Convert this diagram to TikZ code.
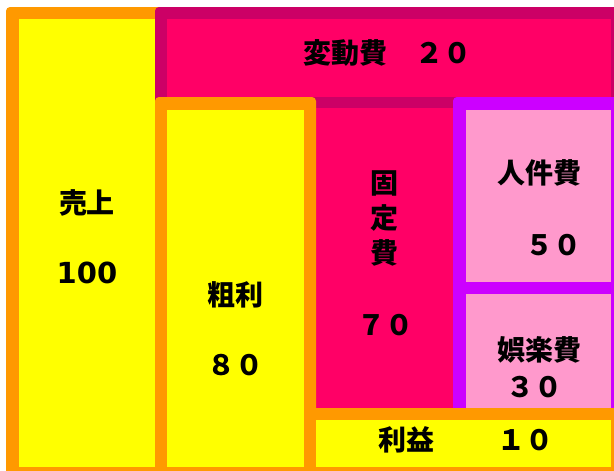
\documentclass[tikz,border=0pt]{standalone}
\usepackage{fontspec}
\newfontfamily\jp{Noto Sans CJK JP}
\newfontfamily\dv{DejaVu Sans}
\definecolor{orng}{HTML}{FF9900}
\definecolor{ylw}{HTML}{FFFF00}
\definecolor{mag}{HTML}{FF0066}
\definecolor{dkmag}{HTML}{CC0066}
\definecolor{purp}{HTML}{CC00FF}
\definecolor{pnk}{HTML}{FF99CC}
\tikzset{
  lbl/.style={inner sep=0pt, font=\jp\bfseries\fontsize{28}{34}\selectfont, text=black},
  num/.style={inner sep=0pt, font=\dv\bfseries\fontsize{29}{34}\selectfont, text=black},
  box/.style={rounded corners=4pt}
}
\begin{document}
\begin{tikzpicture}[x=1pt,y=-1pt]
\useasboundingbox (0,0) rectangle (614,471);
\clip (0,0) rectangle (614,471);
\fill[white] (0,0) rectangle (614,471);
% 売上
\fill[orng, box] (6,7) rectangle (175,490);
\fill[ylw] (19,19) rectangle (160,467);
% 変動費 / 固定費
\fill[dkmag, box] (155,7) rectangle (630,490);
\fill[mag] (167,19) rectangle (611,97);
\fill[mag] (316,108) rectangle (453,420);
% 粗利
\fill[orng, box] (155,97) rectangle (316,490);
\fill[ylw] (167,110) rectangle (304,467);
% 人件費 / 娯楽費
\fill[purp, box] (453,97) rectangle (630,420);
\fill[pnk] (466,110) rectangle (611,282);
\fill[pnk] (466,294) rectangle (611,420);
% 利益
\fill[orng, box] (304,408) rectangle (630,490);
\fill[ylw] (316,420) rectangle (611,467);
% texts
\node[lbl] (uriage) at (87,203) {売上};
\node[num] (uriagev) at (87,273) {100};
\node[lbl] (hendo) at (387,53) {変動費　２０};
\node[lbl, align=center, font=\jp\bfseries\fontsize{28}{35}\selectfont] (kotei) at (384,218) {固\\定\\費};
\node[lbl] (koteiv) at (385,325) {７０};
\node[lbl] (arari) at (235,295) {粗利};
\node[lbl] (arariv) at (235,365) {８０};
\node[lbl] (jinken) at (539,173) {人件費};
\node[lbl] (jinkenv) at (553,245) {５０};
\node[lbl] (goraku) at (539,350) {娯楽費};
\node[lbl] (gorakuv) at (534,387) {３０};
\node[lbl] (rieki) at (406,440) {利益};
\node[lbl] (riekiv) at (525,440) {１０};
\end{tikzpicture}
\end{document}
